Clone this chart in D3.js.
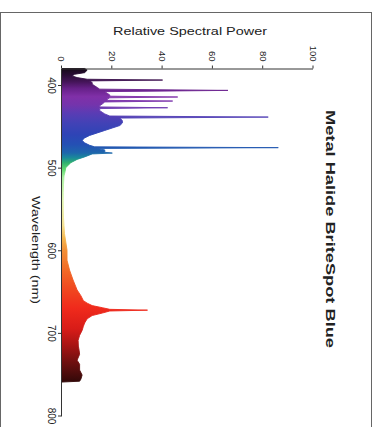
<!DOCTYPE html>
<html>
<head>
<meta charset="utf-8">
<script src="https://cdn.jsdelivr.net/npm/d3@7"></script>
<style>
  html, body { margin: 0; padding: 0; background: #fff; }
  svg { display: block; }
  text { font-family: "Liberation Sans", Arial, Helvetica, sans-serif; fill: #222; }
</style>
</head>
<body>
<script>
// ---------------- DATA ----------------
const chartTitle = "Metal Halide BriteSpot Blue";
const valueAxisTitle = "Relative Spectral Power";
const wavelengthAxisTitle = "Wavelength (nm)";

const wavelengthTicks = [400, 500, 600, 700, 800];
const powerTicks = [0, 20, 40, 60, 80, 100];

// wavelength (nm)
const wavelengths = [
  380, 382, 385, 387, 389, 391, 393, 394, 395, 397, 399, 401, 403, 405,
  406.5, 408, 410, 412, 413.5, 414.5, 415.5, 417, 418.5, 419.4, 420.5, 423, 425,
  426.5, 427.5, 428.5, 431, 433, 435, 437.5, 438.8, 440, 443, 446, 449, 452,
  455, 458, 461, 464, 467, 470, 473, 474.8, 475.8, 476.8, 478.5, 481.4, 482.4, 483.4,
  487, 490, 494, 497, 500, 505, 510, 520, 530, 540, 550, 560, 570, 580, 590,
  600, 612, 624, 636, 648, 655, 661, 664, 667, 669.5, 671.5, 672.5, 673.5,
  676, 679, 683, 688, 692, 697, 703, 709, 716, 721, 726, 733, 738, 745, 751,
  756, 758.5, 759.5
];
// relative spectral power
const power = [
  9, 10, 9, 5, 4, 6, 10, 40, 11, 12, 12, 13, 14, 15,
  66, 17, 18, 19, 19, 46, 19, 18, 18, 44, 17, 16, 15,
  15, 42, 15, 15, 16, 17, 19, 82, 23, 24, 24, 23, 20,
  17, 14, 11, 9, 8, 9, 11, 13, 86, 14, 17, 17, 20, 12,
  9, 6, 3.5, 2.5, 1.5, 1.2, 0.8, 0.6, 0.5, 0.5, 0.5, 0.6, 0.8, 1, 1.5,
  2, 2, 3, 4.4, 6, 7.5, 8.5, 10, 12, 16, 19, 34, 19,
  16, 12, 10, 9, 8.5, 8, 7, 6.4, 6.5, 6.8, 7, 6, 7, 7, 8,
  7.5, 7, 0
];

// ---------------- DRAWING ----------------
const W = 376, H = 427;
const svg = d3.select("body").append("svg").attr("width", W).attr("height", H);

// outer frame
svg.append("rect")
  .attr("x", 0.5).attr("y", 12.5).attr("width", 371).attr("height", 430)
  .attr("fill", "none").attr("stroke", "#666").attr("stroke-width", 1);

// The whole chart is rotated 90° clockwise
const g = svg.append("g").attr("transform", `translate(${W},0) rotate(90)`);

const x = d3.scaleLinear().domain([380, 800]).range([68.5, 415.5]);
const y = d3.scaleLinear().domain([0, 100]).range([314, 62.5]);

// spectral colour gradient
const spectrumColors = [
  [380, "#160a18"], [388, "#2a0c36"], [396, "#441458"], [404, "#662088"],
  [414, "#8030a8"], [424, "#7434ac"], [434, "#5a3cb4"], [446, "#4242b6"],
  [460, "#2e44b6"], [472, "#2450b4"], [482, "#1e66ac"], [488, "#1a8a9a"],
  [494, "#30b070"], [502, "#60d870"], [512, "#a8f0a0"], [540, "#e0f4b0"],
  [570, "#f4e090"], [585, "#f4b850"], [600, "#f29038"], [620, "#f27028"],
  [645, "#f04a20"], [670, "#f02a1c"], [695, "#d81c18"], [715, "#a81414"],
  [735, "#701010"], [750, "#4a0c0c"], [760, "#300808"]
];
const defs = svg.append("defs");
const grad = defs.append("linearGradient")
  .attr("id", "spectrum").attr("gradientUnits", "userSpaceOnUse")
  .attr("x1", x(380)).attr("y1", 0).attr("x2", x(760)).attr("y2", 0);
spectrumColors.forEach(([wl, c]) => {
  grad.append("stop").attr("offset", (wl - 380) / (760 - 380)).attr("stop-color", c);
});

const data = wavelengths.map((wl, i) => ({ wl, p: power[i] }));
const area = d3.area()
  .x(d => x(d.wl))
  .y0(y(0))
  .y1(d => y(d.p));

g.append("path")
  .datum(data)
  .attr("d", area)
  .attr("fill", "url(#spectrum)")
  .attr("stroke", "url(#spectrum)")
  .attr("stroke-width", 0.9)
  .attr("stroke-linejoin", "round");

// wavelength axis (bottom in chart frame)
const xAxis = g.append("g")
  .attr("transform", `translate(0,${y(0)})`)
  .call(d3.axisBottom(x).tickValues(wavelengthTicks).tickSize(4).tickSizeOuter(0).tickPadding(3));
xAxis.selectAll("text").attr("font-size", 10);

// power axis (left in chart frame)
const yAxis = g.append("g")
  .attr("transform", `translate(${x(380)},0)`)
  .call(d3.axisLeft(y).tickValues(powerTicks).tickSize(3).tickSizeOuter(0).tickPadding(4));
yAxis.selectAll("text").attr("font-size", 9.5);

[xAxis, yAxis].forEach(a => {
  a.select(".domain").attr("stroke", "#333");
  a.selectAll(".tick line").attr("stroke", "#333");
  a.selectAll(".tick text").style("fill", "#222").style("font-family", "'Liberation Sans', Arial, sans-serif");
});

// axis titles
g.append("text")
  .attr("transform", `translate(35,186) rotate(-90)`)
  .attr("text-anchor", "middle")
  .attr("font-size", 11)
  .attr("textLength", 154).attr("lengthAdjust", "spacingAndGlyphs")
  .text(valueAxisTitle);

g.append("text")
  .attr("x", 250).attr("y", 344)
  .attr("text-anchor", "middle")
  .attr("font-size", 11)
  .attr("textLength", 108).attr("lengthAdjust", "spacingAndGlyphs")
  .text(wavelengthAxisTitle);

// chart title
g.append("text")
  .attr("x", 229).attr("y", 50)
  .attr("text-anchor", "middle")
  .attr("font-size", 13)
  .attr("font-weight", "bold")
  .attr("textLength", 238).attr("lengthAdjust", "spacingAndGlyphs")
  .text(chartTitle);
</script>
</body>
</html>
